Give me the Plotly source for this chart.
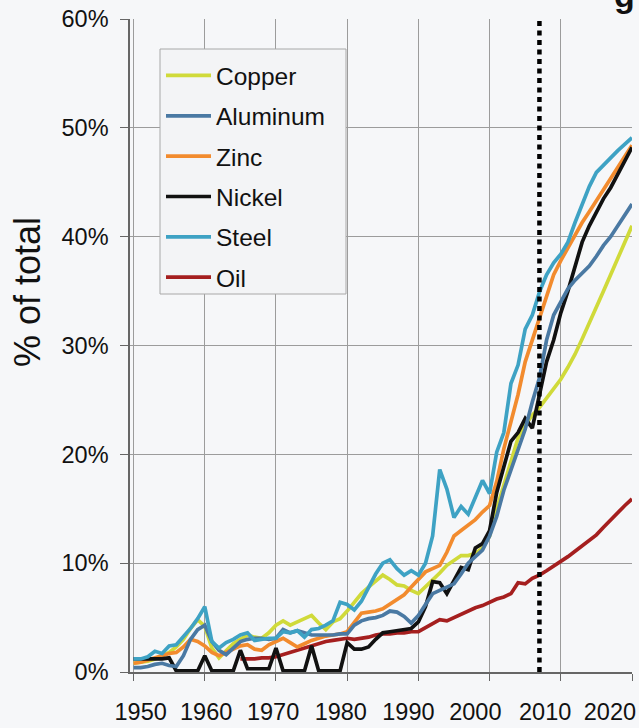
import plotly.graph_objects as go

years = list(range(1950, 2021))
oil_years = list(range(1965, 2021))

copper = [0.8, 0.9, 1.0, 1.2, 1.5, 1.8, 2.3, 3.0, 4.0, 4.8,
          4.2, 2.2, 1.3, 2.0, 2.6, 3.0, 3.4, 3.2, 3.1, 3.6,
          4.3, 4.7, 4.3, 4.6, 4.9, 5.2, 4.5, 3.9, 4.6, 4.9,
          5.6, 6.4, 7.2, 7.8, 8.4, 8.9, 8.5, 8.0, 7.9, 7.5,
          7.2, 7.8, 8.5, 9.1, 9.8, 10.3, 10.7, 10.7, 10.9, 11.4,
          12.5, 15.0, 17.2, 19.5, 21.5, 22.7, 23.6, 24.3, 25.2, 26.0,
          26.9, 28.0, 29.2, 30.6, 32.0, 33.5, 35.0, 36.5, 38.0, 39.6, 41.0]

aluminum = [0.4, 0.4, 0.5, 0.7, 0.8, 0.6, 0.5, 1.5, 3.0, 3.9,
            4.3, 2.8, 2.0, 1.6, 2.2, 2.8, 3.0, 3.1, 3.1, 3.0,
            3.1, 3.9, 3.6, 3.8, 3.6, 3.4, 3.4, 3.4, 3.4, 3.5,
            3.5, 4.3, 4.7, 4.9, 5.0, 5.2, 5.6, 5.5, 5.1, 4.5,
            5.2, 6.2, 7.2, 7.5, 7.8, 8.1, 9.0, 10.0, 10.6, 11.2,
            12.5, 14.3, 16.7, 18.6, 20.4, 22.3, 24.8, 27.0, 30.5, 32.8,
            34.0, 35.2, 36.0, 36.6, 37.3, 38.2, 39.2, 40.0, 41.0, 42.0, 43.0]

zinc = [0.8, 0.9, 1.1, 1.3, 1.5, 1.7, 1.8, 2.3, 3.0, 2.8,
        2.4, 1.8, 1.5, 1.8, 2.1, 2.4, 2.5, 2.1, 2.0, 2.5,
        2.8, 3.1, 2.7, 2.3, 2.6, 2.9, 3.1, 3.3, 3.4, 3.5,
        3.7, 4.6, 5.4, 5.5, 5.6, 5.8, 6.2, 6.6, 7.1, 7.8,
        8.5, 9.2, 9.5, 9.8, 11.0, 12.5, 13.0, 13.5, 14.0, 14.7,
        15.3, 17.5, 20.5, 23.0, 25.5, 28.5, 30.5, 32.3, 34.5, 36.5,
        37.8, 39.0, 40.2, 41.3, 42.3, 43.3, 44.3, 45.3, 46.3, 47.3, 48.4]

nickel = [1.2, 1.2, 1.2, 1.2, 1.2, 1.3, 0.1, 0.1, 0.1, 0.1,
          1.5, 0.1, 0.1, 0.1, 0.1, 2.0, 0.3, 0.3, 0.3, 0.3,
          2.2, 0.1, 0.1, 0.1, 0.1, 2.4, 0.1, 0.1, 0.1, 0.1,
          2.7, 2.1, 2.1, 2.3, 3.0, 3.6, 3.7, 3.8, 3.9, 4.0,
          4.6, 6.0, 8.3, 8.2, 7.2, 8.4, 9.6, 9.4, 11.4, 11.8,
          13.0, 16.5, 18.8, 21.2, 22.0, 23.3, 22.4, 25.5, 28.5, 30.5,
          33.0, 35.0, 37.3, 39.5, 41.0, 42.3, 43.5, 44.5, 45.7, 47.0, 48.2]

steel = [1.2, 1.2, 1.4, 1.9, 1.7, 2.4, 2.5, 3.2, 4.0, 4.9,
         6.0, 2.8, 2.2, 2.7, 3.0, 3.4, 3.6, 2.9, 3.0, 3.1,
         3.1, 3.7, 3.6, 3.8, 3.2, 3.9, 4.0, 4.3, 4.7, 6.4,
         6.2, 5.7, 6.5, 7.8, 9.0, 10.0, 10.3, 9.5, 8.9, 9.3,
         8.9, 10.0, 12.5, 18.6, 16.8, 14.2, 15.2, 14.5, 16.0, 17.6,
         16.4, 20.2, 22.0, 26.5, 28.2, 31.5, 32.8, 34.9, 36.5, 37.6,
         38.4, 39.5, 41.3, 43.0, 44.6, 45.9, 46.6, 47.3, 47.9, 48.5, 49.1]

oil = [1.2, 1.2, 1.2, 1.3, 1.3, 1.4, 1.6, 1.8, 2.0, 2.2,
       2.4, 2.6, 2.8, 2.9, 3.0, 3.1, 3.0, 3.1, 3.2, 3.4,
       3.5, 3.5, 3.6, 3.6, 3.7, 3.7, 4.1, 4.5, 4.8, 4.7,
       5.0, 5.3, 5.6, 5.9, 6.1, 6.4, 6.7, 6.9, 7.2, 8.2,
       8.1, 8.6, 8.9, 9.3, 9.7, 10.1, 10.6, 11.1, 11.6, 12.0,
       12.6, 13.3, 14.0, 14.7, 15.3, 15.9]

marker_year = 2007
x_ticks = [1950, 1960, 1970, 1980, 1990, 2000, 2010, 2020]
x_tick_labels = ["1950", "1960", "1970", "1980", "1990", "2000", "2010", "2020"]
# label centres as printed (they drift slightly left of their ticks)
x_label_pos = [1951.0, 1960.2, 1969.6, 1979.1, 1988.6, 1998.0, 2007.8, 2016.9]
y_ticks = [0, 10, 20, 30, 40, 50, 60]
y_tick_labels = ["0%", "10%", "20%", "30%", "40%", "50%", "60%"]

series = [
    # name, x, y, color, legend rank
    ("Oil", oil_years, oil, "#a51f1f", 6),
    ("Copper", years, copper, "#d0da3a", 1),
    ("Zinc", years, zinc, "#f28b2e", 3),
    ("Nickel", years, nickel, "#111111", 4),
    ("Aluminum", years, aluminum, "#4a79a3", 2),
    ("Steel", years, steel, "#3ea2c4", 5),
]

fig = go.Figure()
for name, xs, ys, color, rank in series:
    fig.add_trace(go.Scatter(
        x=xs, y=ys, mode="lines", name=name,
        line=dict(color=color, width=3.7),
        legendrank=rank, legendgroup=name,
    ))

# carrier for the label axis (no visible marks)
fig.add_trace(go.Scatter(x=[], y=[], xaxis="x2", yaxis="y",
                         showlegend=False, hoverinfo="skip"))

W, H = 639, 728
ML, MR, MT, MB = 130, 7, 19, 56
PW, PH = W - ML - MR, H - MT - MB


def px_x(p):
    return (p - ML) / PW


def px_y(p):
    return (H - MB - p) / PH


fig.add_shape(type="line", xref="x", yref="y",
              x0=marker_year, x1=marker_year, y0=0, y1=60,
              line=dict(color="#000000", width=4.5, dash="5px,4.5px"))

# legend box
fig.add_shape(type="rect", xref="paper", yref="paper", layer="above",
              x0=px_x(160), x1=px_x(346), y0=px_y(294), y1=px_y(49),
              fillcolor="#f3f4f6", line=dict(color="#a8a8a8", width=1))

font_family = "Liberation Sans, Arial, sans-serif"
x_range = [1949.5, 2020]

fig.update_layout(
    width=W, height=H,
    margin=dict(l=ML, r=MR, t=MT, b=MB, autoexpand=False),
    paper_bgcolor="#f6f7f9",
    plot_bgcolor="#f6f7f9",
    font=dict(family=font_family, color="#111111"),
    showlegend=True,
    legend=dict(
        x=px_x(161), y=px_y(53), xanchor="left", yanchor="top",
        bgcolor="rgba(0,0,0,0)", borderwidth=0,
        font=dict(size=24.5, family=font_family, color="#111111"),
        itemwidth=45, tracegroupgap=5.5, traceorder="grouped",
    ),
    xaxis=dict(
        range=x_range, tickvals=x_ticks, showticklabels=False,
        showgrid=True, gridcolor="#9c9c9c", gridwidth=1,
        showline=True, linecolor="#666666", linewidth=1.5,
        ticks="outside", ticklen=7, tickcolor="#666666",
        automargin=False, zeroline=False,
    ),
    xaxis2=dict(
        overlaying="x", anchor="y", side="bottom",
        range=x_range, tickvals=x_label_pos, ticktext=x_tick_labels,
        showgrid=False, showline=False, zeroline=False,
        ticks="outside", ticklen=7, tickcolor="rgba(0,0,0,0)",
        tickfont=dict(size=23.5, family=font_family, color="#111111"),
        ticklabelstandoff=12, ticklabeloverflow="allow",
        automargin=False,
    ),
    yaxis=dict(
        range=[0, 60], tickvals=y_ticks, ticktext=y_tick_labels,
        showgrid=True, gridcolor="#9c9c9c", gridwidth=1,
        showline=True, linecolor="#666666", linewidth=1.5,
        ticks="outside", ticklen=8, tickcolor="#666666",
        tickfont=dict(size=23.5, family=font_family, color="#111111"),
        ticklabelstandoff=7, automargin=False,
        zeroline=False,
    ),
    annotations=[
        dict(text="% of total", xref="paper", yref="paper",
             x=-0.205, y=px_y(292), xanchor="center", yanchor="middle",
             textangle=-90, showarrow=False,
             font=dict(size=36, family=font_family, color="#111111")),
        dict(text="<b>g</b>", xref="paper", yref="paper",
             x=px_x(624), y=px_y(16), xanchor="center", yanchor="bottom",
             showarrow=False,
             font=dict(size=34, family=font_family, color="#111111")),
    ],
)

fig.write_html("out.html",
               config={"displayModeBar": False},
               post_script="document.body.style.margin='0px';"
                           "document.body.style.overflow='hidden';")
